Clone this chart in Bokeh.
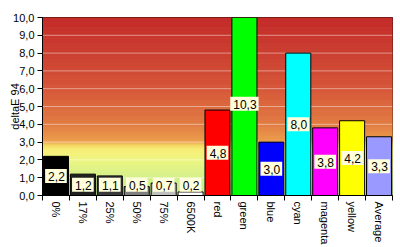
import numpy as np
from bokeh.plotting import figure
from bokeh.models import ColumnDataSource, FixedTicker, Range1d
from bokeh.core.properties import value
from bokeh.embed import file_html
from bokeh.resources import INLINE

categories = ["0%", "17%", "25%", "50%", "75%", "6500K", "red", "green", "blue",
              "cyan", "magenta", "yellow", "Average"]
values = [2.2, 1.2, 1.1, 0.5, 0.7, 0.2, 4.8, 10.3, 3.0, 8.0, 3.8, 4.2, 3.3]
value_labels = ["2,2", "1,2", "1,1", "0,5", "0,7", "0,2", "4,8", "10,3", "3,0",
                "8,0", "3,8", "4,2", "3,3"]
bar_colors = ["#000000", "#202020", "#3a3a3a", "#7f7f7f", "#bfbfbf", "#ffffff",
              "#ff0000", "#00ff00", "#0000ff", "#00ffff", "#ff00ff", "#ffff00",
              "#9999ff"]
y_ticks = list(range(0, 11))

FONT = "Liberation Sans"

p = figure(width=400, height=247, output_backend="svg", toolbar_location=None,
           x_range=Range1d(0, len(categories)), y_range=Range1d(0, 10),
           min_border_left=42, min_border_right=8, min_border_top=17,
           min_border_bottom=10)

# gradient background (style only)
stops = [(0.0, (192, 234, 140)), (1.0, (212, 240, 140)), (2.0, (236, 246, 130)),
         (2.6, (248, 240, 120)), (2.85, (245, 215, 100)), (3.05, (236, 160, 78)),
         (4.0, (226, 125, 68)), (6.0, (214, 88, 58)), (8.0, (204, 64, 50)),
         (10.0, (196, 44, 42))]
sv = np.array([s[0] for s in stops])
sc = np.array([s[1] for s in stops], dtype=float)
edges = np.linspace(0, 10, 101)
mids = (edges[:-1] + edges[1:]) / 2
cols = []
for m in mids:
    r = np.interp(m, sv, sc[:, 0]); g = np.interp(m, sv, sc[:, 1]); b = np.interp(m, sv, sc[:, 2])
    cols.append("#%02x%02x%02x" % (int(r), int(g), int(b)))
p.quad(left=0, right=len(categories), bottom=edges[:-1], top=edges[1:],
       fill_color=cols, line_color=cols, line_width=1)

# light gridlines
p.segment(x0=0, x1=len(categories), y0=y_ticks[1:-1], y1=y_ticks[1:-1],
          line_color="white", line_alpha=0.45, line_width=1)

x = np.arange(len(categories)) + 0.5
label_y = [max(v / 2, 0.6) for v in values]
src = ColumnDataSource(dict(x=x, top=values, color=bar_colors, lbl=value_labels, ly=label_y))
p.vbar(x="x", top="top", width=0.93, fill_color="color", line_color="black",
       line_width=1, source=src)

p.text(x="x", y="ly", text="lbl", source=src, text_align="center",
       text_baseline="middle", text_font=value(FONT), text_font_size="12px",
       text_color="black", background_fill_color="#ffffdc", padding=[3, 2, 3, 2])

p.grid.visible = False
p.outline_line_color = "black"
p.outline_line_width = 1

# x axis: labels at centers, ticks at boundaries
p.xaxis.ticker = FixedTicker(ticks=list(x), minor_ticks=list(range(0, len(categories) + 1)))
p.xaxis.major_label_overrides = {float(xx): c for xx, c in zip(x, categories)}
p.xaxis.major_tick_out = 0
p.xaxis.major_tick_in = 0
p.xaxis.minor_tick_out = 5
p.xaxis.minor_tick_in = 0
p.xaxis.major_label_orientation = "vertical"
p.xaxis.major_label_standoff = 1
p.xaxis.major_label_text_font = FONT
p.xaxis.major_label_text_font_size = "11px"
p.xaxis.major_label_text_color = "black"
p.xaxis.axis_line_color = "black"

p.yaxis.ticker = FixedTicker(ticks=y_ticks, minor_ticks=[])
p.yaxis.major_label_overrides = {t: f"{t},0" for t in y_ticks}
p.yaxis.major_tick_out = 5
p.yaxis.major_tick_in = 0
p.yaxis.major_label_standoff = 3
p.yaxis.major_label_text_font = FONT
p.yaxis.major_label_text_font_size = "11px"
p.yaxis.major_label_text_color = "black"
p.yaxis.axis_label = "deltaE 94"
p.yaxis.axis_label_text_font = FONT
p.yaxis.axis_label_text_font_size = "11px"
p.yaxis.axis_label_text_font_style = "normal"
p.yaxis.axis_label_text_color = "black"
p.yaxis.axis_label_standoff = -11
p.yaxis.axis_line_color = "black"

p.background_fill_color = "white"
p.border_fill_color = "white"

open("out.html", "w").write(file_html(p, INLINE))
